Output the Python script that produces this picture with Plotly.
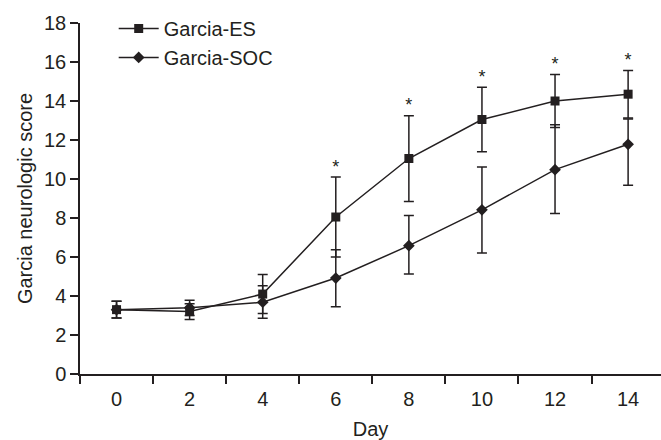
import plotly.graph_objects as go

days = [0, 2, 4, 6, 8, 10, 12, 14]
es_mean = [3.3, 3.2, 4.1, 8.05, 11.05, 13.05, 14.0, 14.35]
es_err = [0.43, 0.4, 1.0, 2.05, 2.2, 1.65, 1.36, 1.22]
soc_mean = [3.3, 3.4, 3.68, 4.92, 6.58, 8.42, 10.48, 11.78]
soc_err_plus = [0.43, 0.38, 0.85, 1.45, 1.55, 2.2, 2.3, 1.3]
soc_err_minus = [0.43, 0.4, 0.82, 1.47, 1.45, 2.22, 2.25, 2.1]
star_days = [6, 8, 10, 12, 14]

ink = "#231f20"
font = "Liberation Sans, Arial, sans-serif"
fs = 20

fig = go.Figure()
fig.add_trace(go.Scatter(
    x=days, y=es_mean, mode="lines+markers", name="Garcia-ES",
    line=dict(color=ink, width=1.5),
    marker=dict(symbol="square", size=9, color=ink),
    error_y=dict(type="data", array=es_err, color=ink, thickness=1.5, width=5),
))
fig.add_trace(go.Scatter(
    x=days, y=soc_mean, mode="lines+markers", name="Garcia-SOC",
    line=dict(color=ink, width=1.5),
    marker=dict(symbol="diamond", size=9, color=ink),
    error_y=dict(type="data", symmetric=False, array=soc_err_plus,
                 arrayminus=soc_err_minus, color=ink, thickness=1.5, width=5),
))
star_y = [es_mean[days.index(d)] + es_err[days.index(d)] for d in star_days]
fig.add_trace(go.Scatter(
    x=star_days, y=star_y, mode="text", text=["*"] * len(star_days),
    textposition="top center", textfont=dict(family=font, size=18, color=ink),
    showlegend=False, hoverinfo="skip",
))

fig.update_layout(
    width=661, height=440,
    margin=dict(l=80, r=0, t=23, b=66),
    paper_bgcolor="white", plot_bgcolor="white",
    font=dict(family=font, size=fs, color=ink),
    showlegend=True,
    legend=dict(x=0.058, y=1.04, xanchor="left", yanchor="top",
                font=dict(size=fs, color=ink), itemwidth=40,
                tracegroupgap=0, bgcolor="rgba(0,0,0,0)"),
    xaxis=dict(
        range=[-1, 14.9], showgrid=False, zeroline=False,
        showline=True, linecolor=ink, linewidth=1.5,
        tickvals=days, ticktext=[str(d) for d in days], ticks="",
        ticklabelstandoff=6,
        tickfont=dict(size=fs, color=ink),
        minor=dict(tick0=-1, dtick=2, ticks="outside", ticklen=8,
                   tickwidth=1.5, tickcolor=ink, showgrid=False),
        title=dict(text="Day", font=dict(size=fs, color=ink), standoff=13),
    ),
    yaxis=dict(
        range=[0, 18], showgrid=False, zeroline=False,
        showline=True, linecolor=ink, linewidth=1.5,
        tickvals=list(range(0, 19, 2)), ticks="outside", ticklen=8,
        tickwidth=1.5, tickcolor=ink, tickfont=dict(size=fs, color=ink),
        title=dict(text="Garcia neurologic score", font=dict(size=fs, color=ink),
                   standoff=6),
    ),
)

fig.write_html("out.html")
